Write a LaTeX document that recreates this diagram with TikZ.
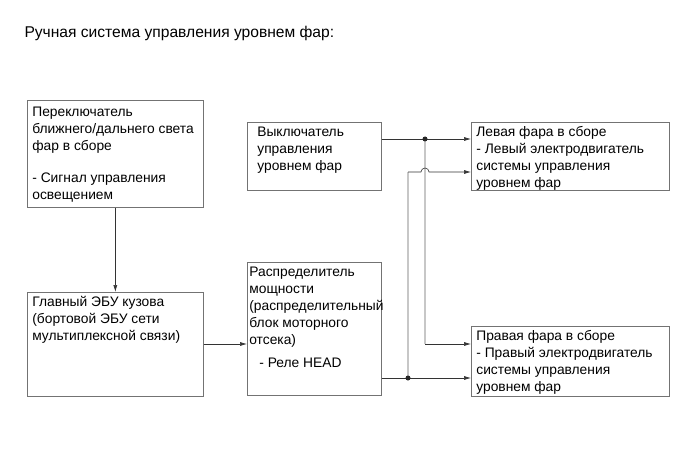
\documentclass[tikz,border=0pt]{standalone}
\usepackage{fontspec}
\setmainfont{Liberation Sans}
\usetikzlibrary{arrows.meta,calc}

\tikzset{
  blk/.style={draw=black!55, line width=0.7pt, anchor=north west,
    inner xsep=5pt, inner ysep=2.5pt, font=\fontsize{13.8}{17}\selectfont},
  wire/.style={draw=black!80, line width=0.6pt},
  gwire/.style={draw=black!22, line width=1.4pt},
  >={Latex[length=7pt,width=4pt]},
}
\newcommand{\boxtext}[3]{\parbox[t][#2][t]{#1}{\raggedright\hyphenpenalty=10000 \strut #3}}

\begin{document}
\begin{tikzpicture}[x=1pt,y=-1pt]
	\useasboundingbox (0,0) rectangle (690,465);
	
	\node[anchor=base west, font=\fontsize{15.6}{18}\selectfont] (title) at (21,38)
		{Ручная система управления уровнем фар:};
	
	% blocks
	\node[blk, inner ysep=4pt] (hlsw) at (27,100) {\boxtext{166pt}{99pt}{Переключатель\\
		ближнего/дальнего света\\ фар в сборе\\[15pt]
		- Сигнал управления\\ освещением}};
	\node[blk] (ecu) at (27,292) {\boxtext{166pt}{99pt}{Главный ЭБУ кузова\\
		(бортовой ЭБУ сети\\ мультиплексной связи)}};
	\node[blk, inner xsep=10pt] (lvsw) at (247,122) {\boxtext{114pt}{63pt}{Выключатель\\
		управления\\ уровнем фар}};
	\node[blk, inner xsep=2pt] (pdb) at (247,262) {\boxtext{130pt}{128pt}{Распределитель\\
		мощности\\ (распределительный\\ блок моторного\\ отсека)\\[6pt]
		\hspace*{10pt}- Реле HEAD}};
	\node[blk] (lhl) at (471,122) {\boxtext{188pt}{63pt}{Левая фара в сборе\\
		- Левый электродвигатель\\ системы управления\\ уровнем фар}};
	\node[blk] (rhl) at (471,326) {\boxtext{188pt}{65pt}{Правая фара в сборе\\
		- Правый электродвигатель\\ системы управления\\ уровнем фар}};
	
	% rows and junctions
	\coordinate (r1) at (0,139);
	\coordinate (r2) at (0,172);
	\coordinate (r3) at (0,344);
	\coordinate (r4) at (0,378);
	\coordinate (jtop) at (425,139);
	\coordinate (jbot) at (408,378);
	
	\draw[wire,->] (hlsw.south) -- (ecu.north);
	\draw[wire,->] (ecu.east |- r3) -- (pdb.west |- r3);
	
	\draw[gwire] (jtop) -- (jtop |- r3);
	\draw[gwire] (jbot) -- (jbot |- r2);
	
	\draw[wire,->] (lvsw.east |- r1) -- (lhl.west |- r1);
	\draw[wire,->] (jtop |- r3) -- (rhl.west |- r3);
	\draw[wire,->] (pdb.east |- r4) -- (rhl.west |- r4);
	\draw[wire,->] (jbot |- r2) -- ($(jtop |- r2)+(-4,0)$)
		arc[start angle=180, end angle=0, radius=4pt] -- (lhl.west |- r2);
	
	\fill[black!85] (jtop) circle[radius=2.5pt];
	\fill[black!85] (jbot) circle[radius=2.5pt];
	
\end{tikzpicture}
\end{document}
